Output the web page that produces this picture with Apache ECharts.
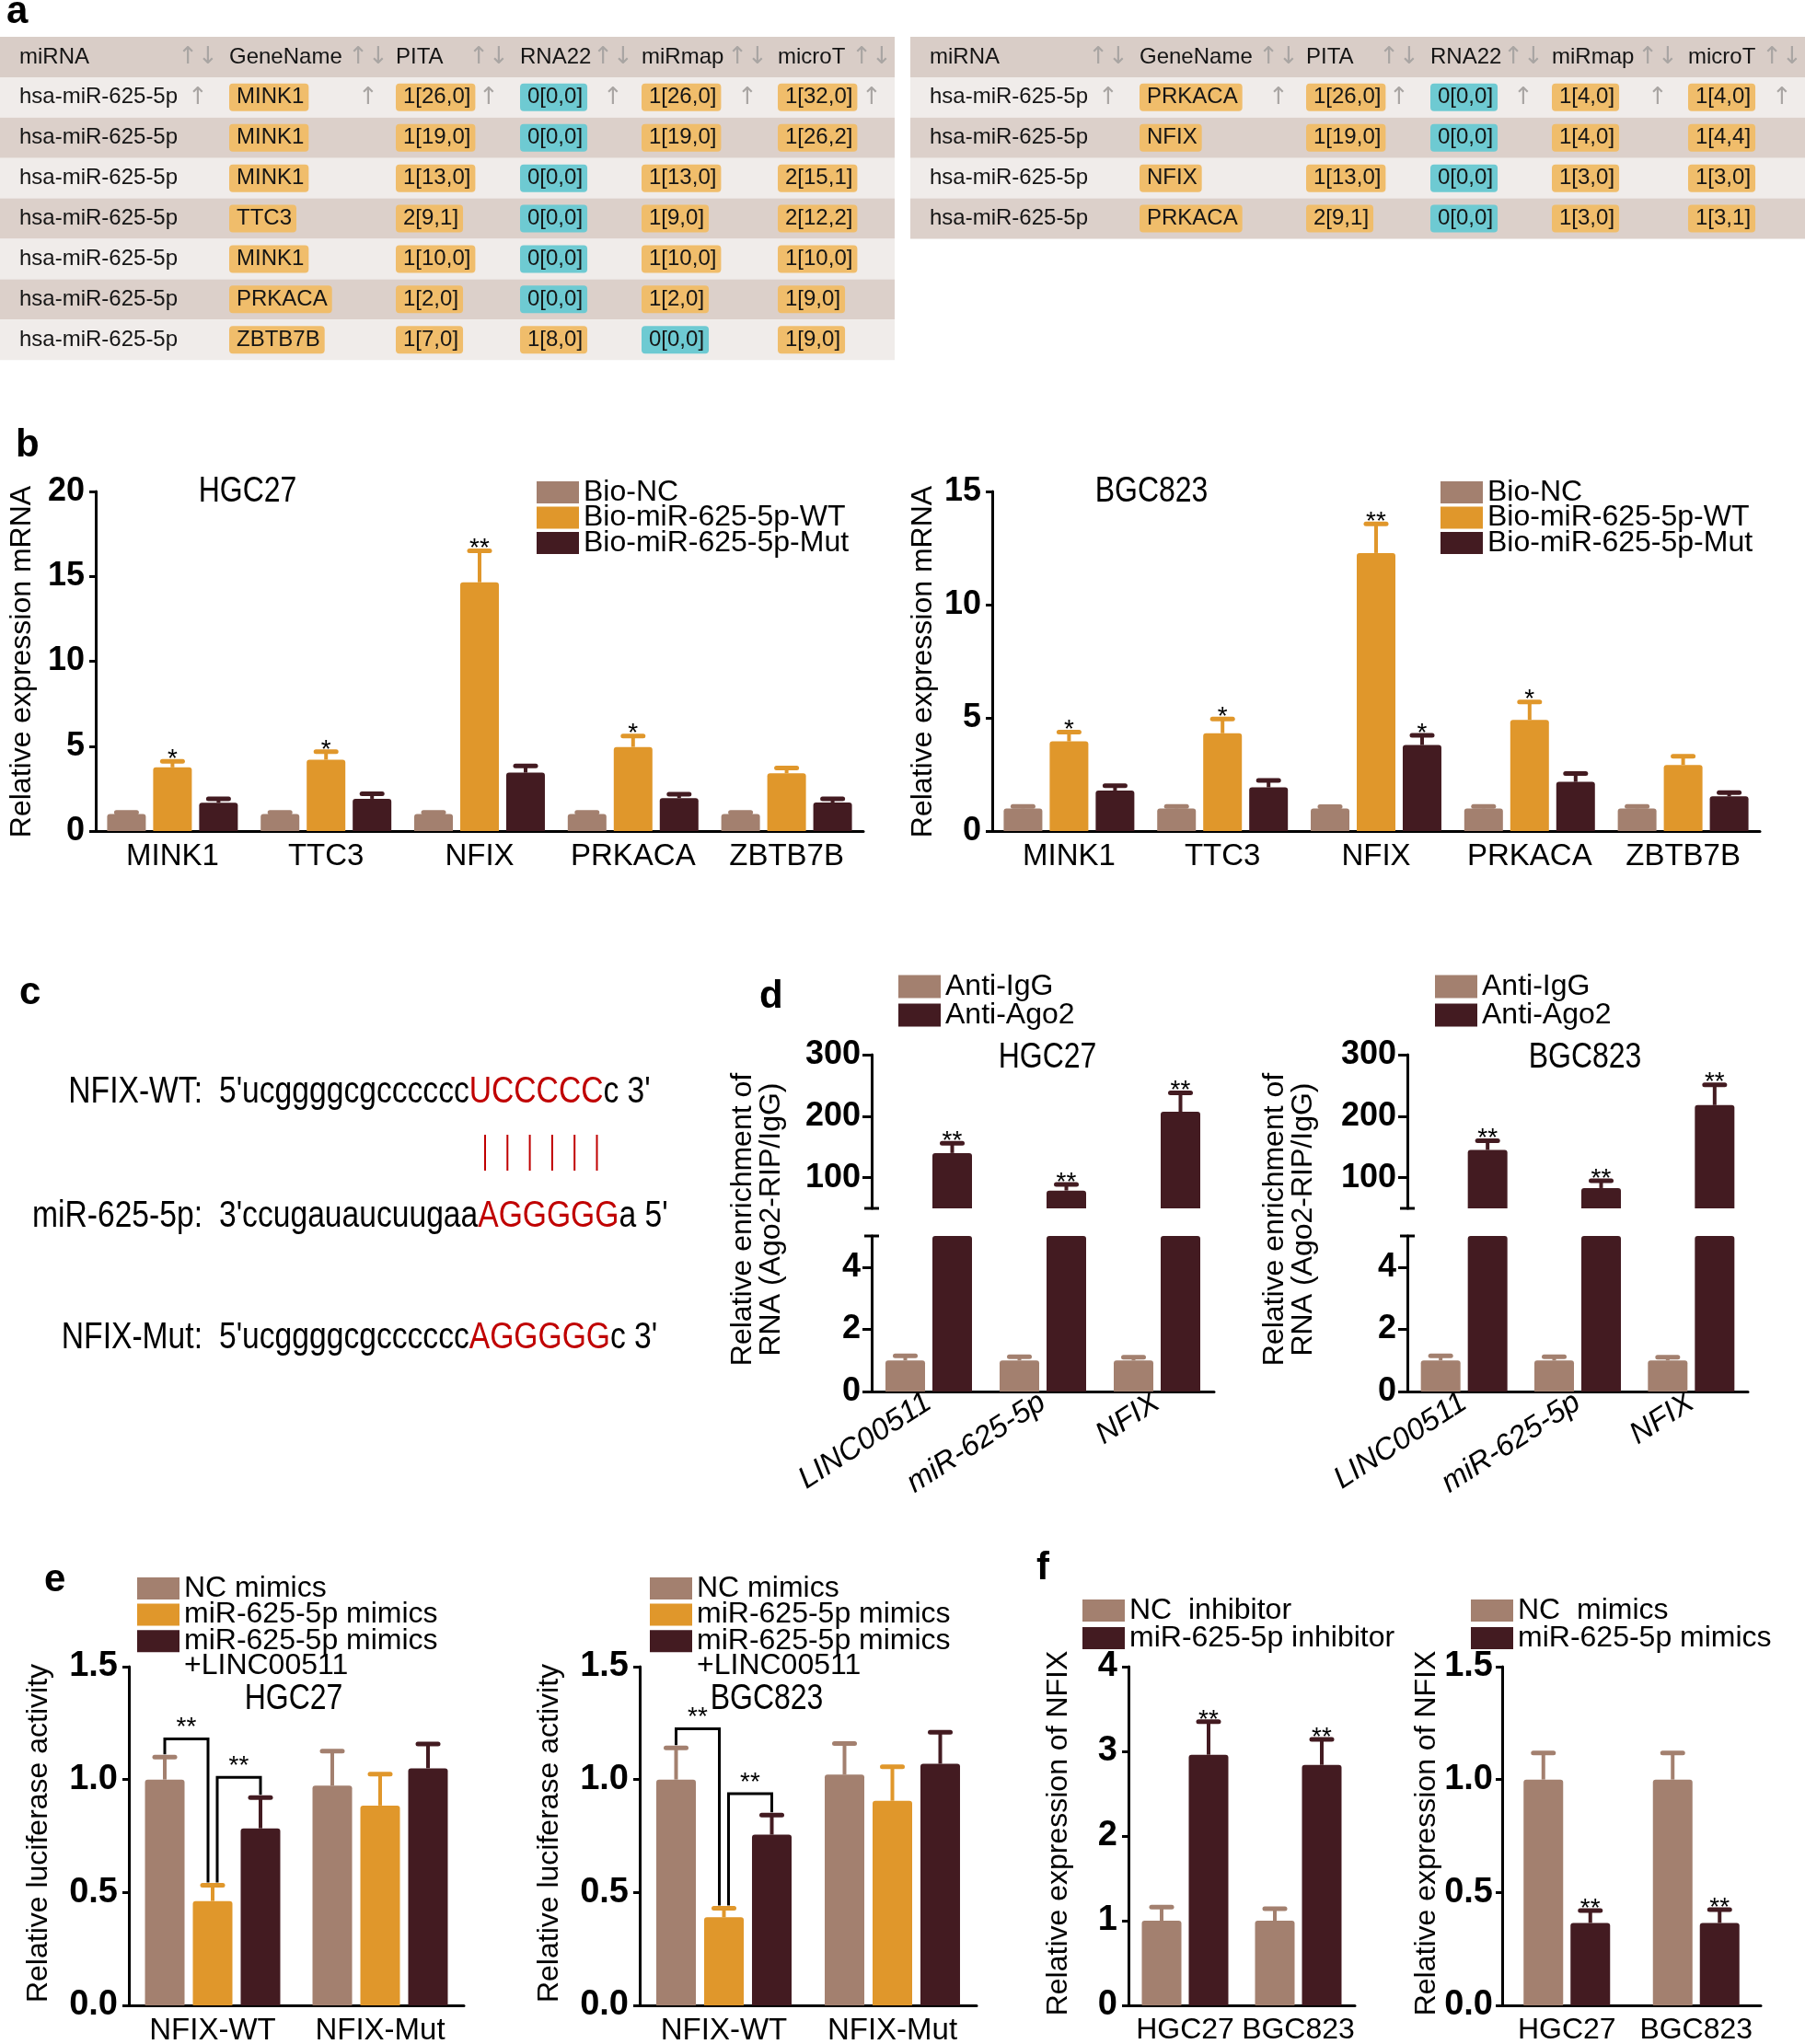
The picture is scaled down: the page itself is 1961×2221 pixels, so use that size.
<!DOCTYPE html>
<html><head><meta charset="utf-8">
<script src="https://cdn.jsdelivr.net/npm/echarts@6/dist/echarts.min.js"></script>
<style>html,body{margin:0;padding:0;background:#fff}#main{width:1961px;height:2221px}</style>
</head><body><div id="main"></div>
<script>
// ================= DATA =================
// (a) target prediction tables
const TABLE_HEADERS = ['miRNA','GeneName','PITA','RNA22','miRmap','microT'];
const T1_MIRNA  = ['hsa-miR-625-5p','hsa-miR-625-5p','hsa-miR-625-5p','hsa-miR-625-5p','hsa-miR-625-5p','hsa-miR-625-5p','hsa-miR-625-5p'];
const T1_GENE   = ['MINK1','MINK1','MINK1','TTC3','MINK1','PRKACA','ZBTB7B'];
const T1_PITA   = ['1[26,0]','1[19,0]','1[13,0]','2[9,1]','1[10,0]','1[2,0]','1[7,0]'];
const T1_RNA22  = ['0[0,0]','0[0,0]','0[0,0]','0[0,0]','0[0,0]','0[0,0]','1[8,0]'];
const T1_MIRMAP = ['1[26,0]','1[19,0]','1[13,0]','1[9,0]','1[10,0]','1[2,0]','0[0,0]'];
const T1_MICROT = ['1[32,0]','1[26,2]','2[15,1]','2[12,2]','1[10,0]','1[9,0]','1[9,0]'];
const T2_MIRNA  = ['hsa-miR-625-5p','hsa-miR-625-5p','hsa-miR-625-5p','hsa-miR-625-5p'];
const T2_GENE   = ['PRKACA','NFIX','NFIX','PRKACA'];
const T2_PITA   = ['1[26,0]','1[19,0]','1[13,0]','2[9,1]'];
const T2_RNA22  = ['0[0,0]','0[0,0]','0[0,0]','0[0,0]'];
const T2_MIRMAP = ['1[4,0]','1[4,0]','1[3,0]','1[3,0]'];
const T2_MICROT = ['1[4,0]','1[4,4]','1[3,0]','1[3,1]'];

// (b) RNA pull-down
const B_CATEGORIES = ['MINK1','TTC3','NFIX','PRKACA','ZBTB7B'];
const B_GROUPS = ['Bio-NC','Bio-miR-625-5p-WT','Bio-miR-625-5p-Mut'];
const B1_NC = [1.0,1.0,1.0,1.0,1.0];            const B1_NC_ERR = [0.10,0.10,0.10,0.10,0.10];
const B1_WT = [3.75,4.2,14.65,4.95,3.4];        const B1_WT_ERR = [0.35,0.47,1.85,0.65,0.31];
const B1_MUT = [1.67,1.9,3.44,1.94,1.68];       const B1_MUT_ERR = [0.23,0.30,0.40,0.23,0.22];
const B1_WT_STARS = ['*','*','**','*',''];
const B2_NC = [1.0,1.0,1.0,1.0,1.0];            const B2_NC_ERR = [0.09,0.09,0.08,0.09,0.09];
const B2_WT = [3.96,4.32,12.28,4.91,2.92];      const B2_WT_ERR = [0.41,0.63,1.29,0.79,0.38];
const B2_MUT = [1.79,1.93,3.8,2.17,1.53];       const B2_MUT_ERR = [0.21,0.31,0.43,0.37,0.17];
const B2_WT_STARS = ['*','*','**','*',''];
const B2_MUT_STARS = ['','','*','',''];

// (c) binding sequences
const C_LABELS = ['NFIX-WT:','miR-625-5p:','NFIX-Mut:'];
const C_SEQ_LEFT = ["5'ucggggcgcccccc","3'ccugauaucuugaa","5'ucggggcgcccccc"];
const C_SEQ_SITE = ['UCCCCC','AGGGGG','AGGGGG'];
const C_SEQ_RIGHT = ["c 3'","a 5'","c 3'"];

// (d) RIP
const D_CATEGORIES = ['LINC00511','miR-625-5p','NFIX'];
const D_GROUPS = ['Anti-IgG','Anti-Ago2'];
const D1_IGG = [1.0,1.0,1.0];   const D1_IGG_ERR = [0.15,0.12,0.10];
const D1_AGO2 = [140,79,207];   const D1_AGO2_ERR = [16,10,31];
const D2_IGG = [1.0,1.0,1.0];   const D2_IGG_ERR = [0.15,0.12,0.10];
const D2_AGO2 = [145,83,218];   const D2_AGO2_ERR = [15,12,33];
const D_AGO2_STARS = ['**','**','**'];

// (e) luciferase
const E_CATEGORIES = ['NFIX-WT','NFIX-Mut'];
const E_GROUPS = ['NC mimics','miR-625-5p mimics','miR-625-5p mimics'];
const E_GROUP3_LINE2 = '+LINC00511';
const E1_NC = [1.0,0.973];   const E1_NC_ERR = [0.10,0.153];
const E1_MIR = [0.462,0.885]; const E1_MIR_ERR = [0.07,0.139];
const E1_LINC = [0.784,1.05]; const E1_LINC_ERR = [0.136,0.108];
const E1_BR_CAT = [0,0]; const E1_BR_FROM = [0,1]; const E1_BR_TO = [1,2]; const E1_BR_LEVEL = [1.18,1.01]; const E1_BR_LABEL = ['**','**'];
const E2_NC = [1.0,1.022];   const E2_NC_ERR = [0.14,0.138];
const E2_MIR = [0.39,0.906]; const E2_MIR_ERR = [0.04,0.151];
const E2_LINC = [0.756,1.07]; const E2_LINC_ERR = [0.087,0.14];
const E2_BR_CAT = [0,0]; const E2_BR_FROM = [0,1]; const E2_BR_TO = [1,2]; const E2_BR_LEVEL = [1.225,0.937]; const E2_BR_LABEL = ['**','**'];

// (f) NFIX expression
const F_CATEGORIES = ['HGC27','BGC823'];
const F1_GROUPS = ['NC  inhibitor','miR-625-5p inhibitor'];
const F2_GROUPS = ['NC  mimics','miR-625-5p mimics'];
const F1_NC = [1.0,1.0];    const F1_NC_ERR = [0.16,0.14];
const F1_INH = [2.96,2.84]; const F1_INH_ERR = [0.39,0.30];
const F2_NC = [1.0,1.0];    const F2_NC_ERR = [0.118,0.118];
const F2_MIM = [0.365,0.365]; const F2_MIM_ERR = [0.055,0.059];
const F_STARS = ['**','**'];

// ================= STYLE / LAYOUT =================
const FONT = "'Liberation Sans', Arial, Helvetica, sans-serif";
const LEG_F = 32, CAT_F = 33;
const NARROW_SCALE = 0.82;   // emulate Arial Narrow on free text
const C_NC = '#A3806F', C_WT = '#E0972B', C_MUT = '#431B21';
const C_HEAD = '#D9CDC7', C_DARKROW = '#DCD0CA', C_LIGHTROW = '#F0ECEA', C_BADGE = '#F0BD6B', C_CYAN = '#6ECAD2';
const COL_X = [21, 249, 430, 565, 697, 845];
const ARROW_X = [215, 400, 531, 666, 812, 947];

const option = {animation:false, backgroundColor:'#ffffff', textStyle:{fontFamily:FONT},
  grid:[], xAxis:[], yAxis:[], series:[], legend:[], graphic:[]};
const labelOf = {};
B_GROUPS.forEach((g,i)=>labelOf['b'+i]=g);
D_GROUPS.forEach((g,i)=>labelOf['d'+i]=g);
E_GROUPS.forEach((g,i)=>labelOf['e'+i]=g);
F1_GROUPS.forEach((g,i)=>labelOf['f'+i]=g);
F2_GROUPS.forEach((g,i)=>labelOf['g'+i]=g);

function gText(x, y, text, style, el) {
  option.graphic.push(Object.assign({type:'text', x, y, silent:true,
    style:Object.assign({text, fontFamily:FONT, fontSize:32, fill:'#000', align:'center', verticalAlign:'middle'}, style||{})}, el||{}));
}
const NARROW_EL = {scaleX:NARROW_SCALE};

function tablePanel(left, top, width, rowH, rows) {
  const gi = option.grid.length, nRows = rows.length + 1;
  option.grid.push({left, top, width, height:rowH*nRows, containLabel:false, outerBoundsMode:'none'});
  option.xAxis.push({type:'value', gridIndex:gi, min:0, max:width, show:false});
  option.yAxis.push({type:'category', gridIndex:gi, data:[...Array(nRows).keys()].map(String), inverse:true, show:false});
  option.series.push({type:'custom', xAxisIndex:gi, yAxisIndex:gi, silent:true, clip:false,
    data:[...Array(nRows).keys()].map(r=>[0,r]),
    renderItem:(params, api)=>{
      const r = api.value(1);
      const yc = api.coord([0, r])[1];
      const h = api.size([0, 1])[1];
      const cs = params.coordSys;
      const ch = [{type:'rect', shape:{x:cs.x, y:yc-h/2, width:cs.width, height:h},
        style:{fill: r===0 ? C_HEAD : (r%2===1 ? C_LIGHTROW : C_DARKROW)}}];
      const cells = r===0 ? TABLE_HEADERS : rows[r-1];
      cells.forEach((t, ci)=>{
        const x = api.coord([COL_X[ci], r])[0];
        const st = {text:t, fontSize:24, fontFamily:FONT, fill:'#151515', align:'left', verticalAlign:'middle'};
        if (r>0 && ci>0) Object.assign(st, {backgroundColor:(ci>1 && t.charAt(0)==='0') ? C_CYAN : C_BADGE, padding:[4,5,2,8], borderRadius:4});
        ch.push({type:'text', x, y:yc, style:st});
        if (r<=1) {
          const ax = api.coord([ARROW_X[ci], r])[0];
          ch.push({type:'text', x:ax, y:yc, style:{text: r===0 ? '↑↓' : '↑', fontSize:26, fontFamily:"'DejaVu Sans', sans-serif", fill:'#A9A5A3', align:'center', verticalAlign:'middle'}});
        }
      });
      return {type:'group', children:ch};
    }});
}

function barPanel(p) {
  const gi = option.grid.length;
  option.grid.push({left:p.left, top:p.top, width:p.width, height:p.height, containLabel:false, outerBoundsMode:'none'});
  const showX = p.xLabels !== false;
  option.xAxis.push({type:'category', gridIndex:gi, data:p.categories,
    axisLine:{show:showX, onZero:false, lineStyle:{color:'#000', width:3}},
    axisTick:{show:false},
    axisLabel: showX ? Object.assign({show:true, interval:0, color:'#000', fontSize:CAT_F, fontFamily:FONT, margin:11}, p.xLabelStyle||{}) : {show:false},
    splitLine:{show:false}});
  const y = {type:'value', gridIndex:gi, min:p.yMin, max:p.yMax,
    axisLine:{show:true, onZero:false, lineStyle:{color:'#000', width:3}},
    axisTick:{show:true, inside:false, length:p.tickLen||7, lineStyle:{color:'#000', width:3}},
    axisLabel:{show:true, color:'#000', fontSize:p.tickFont||36, fontWeight:'bold', fontFamily:FONT, margin:p.labelMargin||12},
    splitLine:{show:false}};
  if (p.interval != null) y.interval = p.interval;
  if (p.tickFmt) y.axisLabel.formatter = p.tickFmt;
  if (p.ticks) { y.axisTick.customValues = p.ticks; y.axisLabel.customValues = p.ticks; }
  option.yAxis.push(y);
  const n = p.series.length, step = p.barWidth + p.gap;
  p.series.forEach(s=>{
    option.series.push({type:'bar', name:s.id, xAxisIndex:gi, yAxisIndex:gi, data:s.values,
      barWidth:p.barWidth, barGap:(p.gap/p.barWidth*100).toFixed(1)+'%', clip:true, silent:true, z:2,
      itemStyle:{color:s.color, borderRadius:[3,3,0,0]}});
  });
  p.series.forEach((s,k)=>{
    option.series.push({type:'custom', xAxisIndex:gi, yAxisIndex:gi, clip:false, silent:true, z:3,
      data:s.values.map((v,i)=>[i, v, s.errors[i]]),
      renderItem:(params, api)=>{
        const i = api.value(0), v = api.value(1), e = api.value(2);
        if (v < p.yMin || v + e > p.yMax) return null;
        const b = api.coord([i, v]), t = api.coord([i, v+e]);
        const x = b[0] + (k-(n-1)/2)*step;
        const ch = [
          {type:'line', shape:{x1:x, y1:b[1], x2:x, y2:t[1]}, style:{stroke:s.color, lineWidth:4}},
          {type:'line', shape:{x1:x-p.capW/2, y1:t[1], x2:x+p.capW/2, y2:t[1]}, style:{stroke:s.color, lineWidth:5, lineCap:'round'}}];
        const star = s.stars ? s.stars[params.dataIndex] : '';
        if (star) ch.push({type:'text', x, y:t[1]-2, style:{text:star, fontSize:28, fontFamily:FONT, fill:'#000', align:'center', verticalAlign:'middle'}});
        return {type:'group', children:ch};
      }});
  });
  if (p.breakCapAt != null) {
    option.series.push({type:'custom', xAxisIndex:gi, yAxisIndex:gi, clip:false, silent:true, z:4, data:[[0, p.breakCapAt]],
      renderItem:(params, api)=>{
        const yy = api.coord([0, api.value(1)])[1], xx = params.coordSys.x;
        return {type:'line', shape:{x1:xx-8, y1:yy, x2:xx+8, y2:yy}, style:{stroke:'#000', lineWidth:3}};
      }});
  }
  if (p.brackets) {
    const br = p.brackets;
    option.series.push({type:'custom', xAxisIndex:gi, yAxisIndex:gi, clip:false, silent:true, z:4,
      data:br.cat.map((c,j)=>[c, br.level[j]]),
      renderItem:(params, api)=>{
        const j = params.dataIndex, c = api.value(0), lv = api.value(1);
        const kL = br.from[j], kR = br.to[j];
        const sL = p.series[kL], sR = p.series[kR];
        const cx = api.coord([c, 0])[0];
        const xL = cx + (kL-(n-1)/2)*step + (kL===1 ? 5 : 0);
        const xR = cx + (kR-(n-1)/2)*step + (kR===1 ? -5 : 0);
        const yLv = api.coord([c, lv])[1];
        const yL = api.coord([c, sL.values[c]+sL.errors[c]])[1] - 3;
        const yR = api.coord([c, sR.values[c]+sR.errors[c]])[1] - 3;
        return {type:'group', children:[
          {type:'polyline', shape:{points:[[xL,yL],[xL,yLv],[xR,yLv],[xR,yR]]}, style:{stroke:'#000', lineWidth:3, fill:null}},
          {type:'text', x:(xL+xR)/2, y:yLv-12, style:{text:br.label[j], fontSize:28, fontFamily:FONT, fill:'#000', align:'center', verticalAlign:'middle'}}]};
      }});
  }
  return gi;
}

function legend(left, top, ids, pitch, iw, ih) {
  option.legend.push({left, top, orient:'vertical', icon:'rect', itemWidth:iw, itemHeight:ih, itemGap:pitch-LEG_F,
    selectedMode:false, padding:0, data:ids, formatter:n=>labelOf[n],
    textStyle:{fontSize:LEG_F, fontFamily:FONT, color:'#000'}});
}

// ================= PANEL a =================
const T1_ROWS = T1_GENE.map((g,i)=>[T1_MIRNA[i], g, T1_PITA[i], T1_RNA22[i], T1_MIRMAP[i], T1_MICROT[i]]);
const T2_ROWS = T2_GENE.map((g,i)=>[T2_MIRNA[i], g, T2_PITA[i], T2_RNA22[i], T2_MIRMAP[i], T2_MICROT[i]]);
tablePanel(0, 40, 972, 43.9, T1_ROWS);
tablePanel(989, 40, 972, 43.9, T2_ROWS);

// ================= PANEL b =================
barPanel({left:104, top:534, width:834, height:369, categories:B_CATEGORIES, yMin:0, yMax:20, interval:5,
  barWidth:42, gap:8, capW:22, series:[
    {id:'b0', color:C_NC, values:B1_NC, errors:B1_NC_ERR},
    {id:'b1', color:C_WT, values:B1_WT, errors:B1_WT_ERR, stars:B1_WT_STARS},
    {id:'b2', color:C_MUT, values:B1_MUT, errors:B1_MUT_ERR}]});
barPanel({left:1078, top:534, width:834, height:369, categories:B_CATEGORIES, yMin:0, yMax:15, interval:5,
  barWidth:42, gap:8, capW:22, series:[
    {id:'b0', color:C_NC, values:B2_NC, errors:B2_NC_ERR},
    {id:'b1', color:C_WT, values:B2_WT, errors:B2_WT_ERR, stars:B2_WT_STARS},
    {id:'b2', color:C_MUT, values:B2_MUT, errors:B2_MUT_ERR, stars:B2_MUT_STARS}]});
legend(583, 519, ['b0','b1','b2'], 27.5, 46, 24);
legend(1565, 519, ['b0','b1','b2'], 27.5, 46, 24);

// ================= PANEL d =================
function dChart(left, width, igg, iggErr, ago, agoErr) {
  const ser = (withStars)=>[
    {id:'d0', color:C_NC, values:igg, errors:iggErr},
    {id:'d1', color:C_MUT, values:ago, errors:agoErr, stars: withStars ? D_AGO2_STARS : null}];
  barPanel({left, top:1146, width, height:167, categories:D_CATEGORIES, yMin:50, yMax:300, ticks:[100,200,300],
    xLabels:false, tickLen:10, barWidth:43, gap:8, capW:22, breakCapAt:50, series:ser(true)});
  barPanel({left, top:1343, width, height:169, categories:D_CATEGORIES, yMin:0, yMax:5, ticks:[0,2,4],
    tickLen:10, barWidth:43, gap:8, capW:22, breakCapAt:5, series:ser(false),
    xLabelStyle:{rotate:33, fontStyle:'italic', margin:9}});
}
dChart(947, 372, D1_IGG, D1_IGG_ERR, D1_AGO2, D1_AGO2_ERR);
dChart(1529, 370, D2_IGG, D2_IGG_ERR, D2_AGO2, D2_AGO2_ERR);
legend(976, 1056, ['d0','d1'], 31, 46, 25);
legend(1559, 1056, ['d0','d1'], 31, 46, 25);

// ================= PANEL e =================
const fmt1 = v=>v.toFixed(1);
barPanel({left:140, top:1811, width:364, height:368, categories:E_CATEGORIES, yMin:0, yMax:1.5, interval:0.5, tickFmt:fmt1,
  tickFont:38, barWidth:43, gap:9, capW:22, series:[
    {id:'e0', color:C_NC, values:E1_NC, errors:E1_NC_ERR},
    {id:'e1', color:C_WT, values:E1_MIR, errors:E1_MIR_ERR},
    {id:'e2', color:C_MUT, values:E1_LINC, errors:E1_LINC_ERR}],
  brackets:{cat:E1_BR_CAT, from:E1_BR_FROM, to:E1_BR_TO, level:E1_BR_LEVEL, label:E1_BR_LABEL}});
barPanel({left:695, top:1811, width:366, height:368, categories:E_CATEGORIES, yMin:0, yMax:1.5, interval:0.5, tickFmt:fmt1,
  tickFont:38, barWidth:43, gap:9, capW:22, series:[
    {id:'e0', color:C_NC, values:E2_NC, errors:E2_NC_ERR},
    {id:'e1', color:C_WT, values:E2_MIR, errors:E2_MIR_ERR},
    {id:'e2', color:C_MUT, values:E2_LINC, errors:E2_LINC_ERR}],
  brackets:{cat:E2_BR_CAT, from:E2_BR_FROM, to:E2_BR_TO, level:E2_BR_LEVEL, label:E2_BR_LABEL}});
legend(149, 1710, ['e0','e1','e2'], 28.6, 46, 24);
legend(706, 1710, ['e0','e1','e2'], 28.6, 46, 24);
gText(200, 1810, E_GROUP3_LINE2, {align:'left', fontSize:LEG_F});
gText(757, 1810, E_GROUP3_LINE2, {align:'left', fontSize:LEG_F});

// ================= PANEL f =================
barPanel({left:1226, top:1811, width:246, height:368, categories:F_CATEGORIES, yMin:0, yMax:4, interval:1,
  tickFont:38, barWidth:43, gap:8, capW:22, xLabelStyle:{fontSize:32}, series:[
    {id:'f0', color:C_NC, values:F1_NC, errors:F1_NC_ERR},
    {id:'f1', color:C_MUT, values:F1_INH, errors:F1_INH_ERR, stars:F_STARS}]});
barPanel({left:1632, top:1811, width:281, height:368, categories:F_CATEGORIES, yMin:0, yMax:1.5, interval:0.5, tickFmt:fmt1,
  tickFont:38, labelMargin:10, barWidth:43, gap:8, capW:22, xLabelStyle:{fontSize:32}, series:[
    {id:'g0', color:C_NC, values:F2_NC, errors:F2_NC_ERR},
    {id:'g1', color:C_MUT, values:F2_MIM, errors:F2_MIM_ERR, stars:F_STARS}]});
legend(1176, 1734, ['f0','f1'], 30, 46, 24);
legend(1598, 1734, ['g0','g1'], 30, 46, 24);

// ================= TEXT: letters, titles, axis titles, panel c =================
const LETTER = {fontSize:42, fontWeight:'bold', align:'left'};
gText(7, 13, 'a', LETTER); gText(17, 484, 'b', LETTER); gText(21, 1079, 'c', LETTER);
gText(825, 1083, 'd', LETTER); gText(48, 1717, 'e', LETTER); gText(1126, 1704, 'f', LETTER);

const TT = {fontSize:39};
gText(269, 534, 'HGC27', TT, NARROW_EL); gText(1251, 534, 'BGC823', TT, NARROW_EL);
gText(1138, 1149, 'HGC27', TT, NARROW_EL); gText(1722, 1149, 'BGC823', TT, NARROW_EL);
gText(319, 1846, 'HGC27', TT, NARROW_EL); gText(833, 1846, 'BGC823', TT, NARROW_EL);

const ROT = {rotation:Math.PI/2};
const YT = {fontSize:32};
gText(24, 719, 'Relative expression mRNA', YT, ROT);
gText(1003, 719, 'Relative expression mRNA', YT, ROT);
gText(823, 1325, 'Relative enrichment of\nRNA (Ago2-RIP/IgG)', Object.assign({lineHeight:31}, YT), ROT);
gText(1401, 1325, 'Relative enrichment of\nRNA (Ago2-RIP/IgG)', Object.assign({lineHeight:31}, YT), ROT);
gText(42, 1992, 'Relative luciferase activity', YT, ROT);
gText(597, 1992, 'Relative luciferase activity', YT, ROT);
gText(1150, 1992, 'Relative expression of NFIX', YT, ROT);
gText(1550, 1992, 'Relative expression of NFIX', YT, ROT);

const C_Y = [1187, 1322, 1454];
const CF = 41;
C_LABELS.forEach((lab,i)=>{
  gText(220, C_Y[i], lab, {fontSize:CF, align:'right'}, NARROW_EL);
  gText(238, C_Y[i], '{n|'+C_SEQ_LEFT[i]+'}{r|'+C_SEQ_SITE[i]+'}{n|'+C_SEQ_RIGHT[i]+'}',
    {align:'left', rich:{n:{fontSize:CF, fontFamily:FONT, fill:'#000'}, r:{fontSize:CF, fontFamily:FONT, fill:'#C00000'}}}, NARROW_EL);
});
for (let j=0;j<6;j++) {
  option.graphic.push({type:'line', silent:true, shape:{x1:527+24.3*j, y1:1233, x2:527+24.3*j, y2:1272}, style:{stroke:'#C00000', lineWidth:2}});
}

const chart = echarts.init(document.getElementById('main'), null, {renderer:'canvas'});
chart.setOption(option);
</script>
</body></html>
